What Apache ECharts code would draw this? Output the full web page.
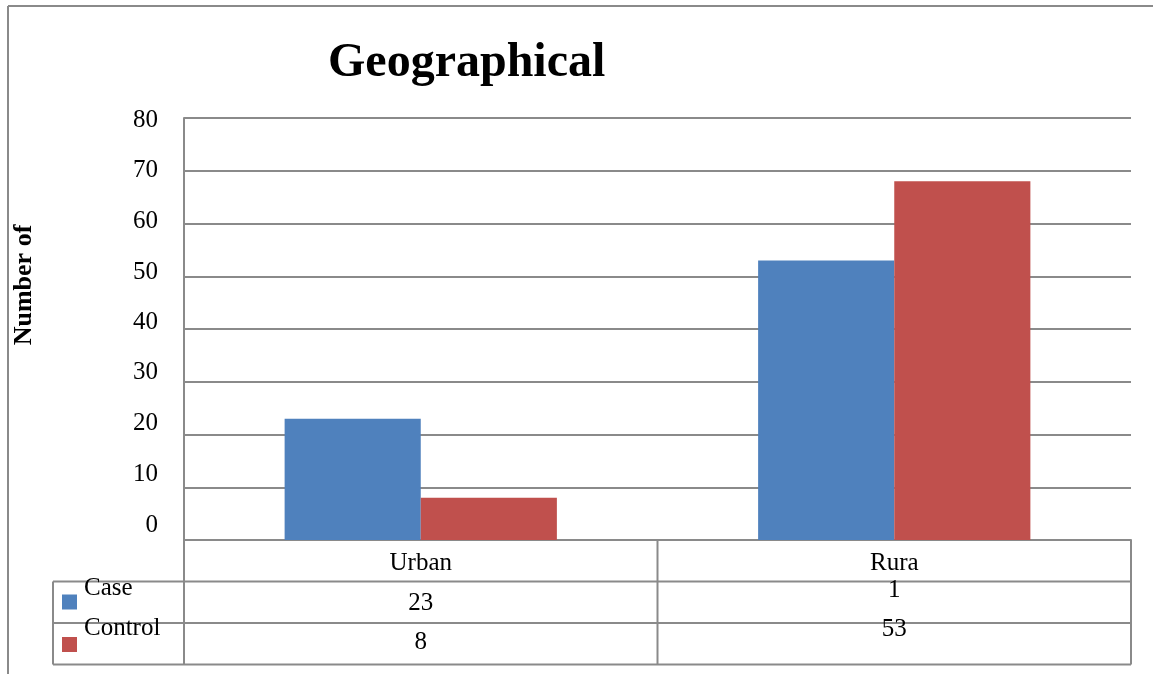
<!DOCTYPE html>
<html>
<head>
<meta charset="utf-8">
<script src="https://cdn.jsdelivr.net/npm/echarts@6/dist/echarts.min.js"></script>
<style>
  html, body { margin: 0; padding: 0; background: #fff; }
  #chart { width: 1153px; height: 674px; }
</style>
</head>
<body>
<div id="chart"></div>
<script>
// Chart content
const titleText = 'Geographical';
const yAxisTitle = 'Number of';
const categories = ['Urban', 'Rura'];
const seriesNames = ['Case', 'Control'];
const caseValues = [23, 53];
const controlValues = [8, 68];
// Text printed in the data table under the axis
const tableCaseText = ['23', '1'];
const tableControlText = ['8', '53'];
const yMin = 0, yMax = 80, yStep = 10;

const colors = ['#4F81BD', '#C0504D'];
const lineColor = '#8a8a8a';
const serif = '"Liberation Serif", "Times New Roman", serif';
const bodySize = 25;

// Tick labels sit on a slightly tighter pitch than the gridlines:
// the top label is just under its line, the lower ones drift upward.
const labelRich = {};
for (let v = yMin; v <= yMax; v += yStep) {
  const lift = Math.round(-2 + (yMax - v) / yStep * 2.15);
  labelRich['d' + v] = lift >= 0
    ? { fontFamily: serif, fontSize: bodySize, color: '#000', padding: [0, 0, lift * 2, 0] }
    : { fontFamily: serif, fontSize: bodySize, color: '#000', padding: [-lift * 2, 0, 0, 0] };
}

const chart = echarts.init(document.getElementById('chart'), null, { renderer: 'canvas' });

const grid = { left: 184, right: 22, top: 118, bottom: 134 };

chart.setOption({
  animation: false,
  backgroundColor: '#fff',
  title: {
    text: titleText,
    left: 323, top: 35,
    textStyle: { fontFamily: serif, fontSize: 48, fontWeight: 'bold', color: '#000' }
  },
  grid: grid,
  xAxis: {
    type: 'category',
    data: categories,
    axisLine: { show: true, lineStyle: { color: lineColor, width: 2 } },
    axisTick: { show: false },
    axisLabel: { show: false },
    splitLine: { show: false }
  },
  yAxis: {
    type: 'value',
    min: yMin, max: yMax, interval: yStep,
    axisLine: { show: true, lineStyle: { color: lineColor, width: 2 } },
    axisTick: { show: false },
    axisLabel: {
      margin: 26, fontFamily: serif, fontSize: bodySize, color: '#000',
      formatter: v => '{d' + v + '|' + v + '}',
      rich: labelRich
    },
    splitLine: { show: true, lineStyle: { color: lineColor, width: 2 } }
  },
  series: [
    { name: seriesNames[0], type: 'bar', data: caseValues, itemStyle: { color: colors[0] },
      barGap: '0%', barCategoryGap: '42.5%' },
    { name: seriesNames[1], type: 'bar', data: controlValues, itemStyle: { color: colors[1] },
      barGap: '0%', barCategoryGap: '42.5%' }
  ]
});

// Data table and frame built from the grid geometry
function buildGraphics() {
  const W = chart.getWidth(), H = chart.getHeight();
  const x0 = grid.left, x1 = W - grid.right;
  const yAxisBottom = H - grid.bottom;
  const rowH = 41.5;
  const r1 = yAxisBottom + rowH, r2 = r1 + rowH, r3 = r2 + rowH;
  const legendLeft = 53;
  const centers = categories.map(c => chart.convertToPixel({ xAxisIndex: 0 }, c));
  const half = (x1 - x0) / categories.length / 2;
  const els = [];
  const line = (xa, ya, xb, yb) => els.push({
    type: 'line', shape: { x1: xa, y1: ya, x2: xb, y2: yb },
    style: { stroke: lineColor, lineWidth: 2 }, silent: true
  });
  const text = (t, x, y, align) => els.push({
    type: 'text', x: x, y: y,
    style: { text: t, fontFamily: serif, fontSize: bodySize, fill: '#000',
             align: align || 'center', verticalAlign: 'middle' }, silent: true
  });

  // outer frame
  line(8, 6, W, 6);
  line(8, 6, 8, H);

  // table grid
  line(legendLeft, r1, x1, r1);
  line(legendLeft, r2, x1, r2);
  line(legendLeft, r3, x1, r3);
  line(x0, yAxisBottom, x0, r3);
  line(legendLeft, r1, legendLeft, r3);
  centers.forEach(cx => line(cx + half, yAxisBottom, cx + half, r3));

  // header and values
  categories.forEach((c, i) => {
    text(c, centers[i], yAxisBottom + 23);
  });
  // Urban column sits centred in its cells; Rura column is shifted up
  const caseY = [r1 + 22, r1 + 9];
  const ctrlY = [r2 + 19, r2 + 6];
  tableCaseText.forEach((t, i) => text(t, centers[i], caseY[i]));
  tableControlText.forEach((t, i) => text(t, centers[i], ctrlY[i]));

  // legend keys
  [r1, r2].forEach((ry, i) => {
    els.push({ type: 'rect', shape: { x: 62, y: ry + 13 + i, width: 15, height: 15 },
               style: { fill: colors[i] }, silent: true });
    text(seriesNames[i], 84, ry + 7 + (i ? -2 : 0), 'left');
  });

  // y-axis title
  els.push({
    type: 'text', x: 24, y: 285, rotation: Math.PI / 2,
    style: { text: yAxisTitle, fontFamily: serif, fontSize: 26, fontWeight: 'bold', fill: '#000',
             align: 'center', verticalAlign: 'middle' }, silent: true
  });

  chart.setOption({ graphic: { elements: els } });
}
buildGraphics();
</script>
</body>
</html>
